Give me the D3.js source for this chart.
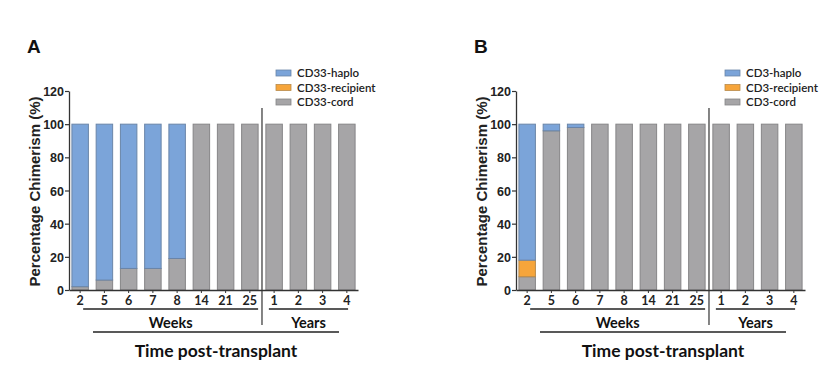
<!DOCTYPE html>
<html><head><meta charset="utf-8">
<script src="https://cdn.jsdelivr.net/npm/d3@7"></script>
<style>body{margin:0;background:#fff;}svg{display:block;}</style>
</head><body>
<svg id="c" width="830" height="383"></svg>
<script>
const categories = ["2","5","6","7","8","14","21","25","1","2","3","4"];
const groups = ["w","w","w","w","w","w","w","w","y","y","y","y"];
const yTicks = [0,20,40,60,80,100,120];
// Panel A (CD33)
const aCord = [2,6,13,13,19,100,100,100,100,100,100,100];
const aRecipient = [0,0,0,0,0,0,0,0,0,0,0,0];
const aHaplo = [98,94,87,87,81,0,0,0,0,0,0,0];
// Panel B (CD3)
const bCord = [8,96,98,100,100,100,100,100,100,100,100,100];
const bRecipient = [10,0,0,0,0,0,0,0,0,0,0,0];
const bHaplo = [82,4,2,0,0,0,0,0,0,0,0,0];
const aLegend = ["CD33-haplo","CD33-recipient","CD33-cord"];
const bLegend = ["CD3-haplo","CD3-recipient","CD3-cord"];
const colors = {haplo:"#7ba4d9", recipient:"#f6a53b", cord:"#a6a5a7"};
const strokes = {haplo:"#6a85a8", recipient:"#b88a4a", cord:"#868587"};

const svg = d3.select("#c");
const arial = "'Liberation Sans', Arial, sans-serif";
const cal = "Lato, 'Open Sans', sans-serif";

function panel(ox, letter, cord, recip, haplo, legend) {
  const g = svg.append("g").attr("transform", `translate(${ox},0)`);
  const x0 = 69, x1 = 358, yTop = 91, yBot = 290;
  const x = d3.scaleBand().domain(d3.range(categories.length)).range([x0, x1]).paddingInner(0.32).paddingOuter(0.12);
  const y = d3.scaleLinear().domain([0,120]).range([yBot, yTop]);

  g.append("text").attr("x", 27).attr("y", 53).text(letter)
    .attr("font-family", arial).attr("font-weight", "bold").attr("font-size", 19).attr("fill", "#111");

  const data = categories.map((c,i) => ({i, cord:cord[i], recipient:recip[i], haplo:haplo[i]}));
  const stack = d3.stack().keys(["cord","recipient","haplo"])(data);
  stack.forEach(layer => {
    g.append("g").selectAll("rect").data(layer.filter(d => d[1]-d[0] > 0)).join("rect")
      .attr("x", d => x(d.data.i))
      .attr("width", x.bandwidth())
      .attr("y", d => y(d[1]))
      .attr("height", d => y(d[0]) - y(d[1]))
      .attr("fill", colors[layer.key])
      .attr("stroke", strokes[layer.key]).attr("stroke-width", 1);
  });

  // y axis
  const ya = g.append("g").attr("transform", `translate(${x0},0)`)
    .call(d3.axisLeft(y).tickValues(yTicks).tickSize(4).tickSizeOuter(0));
  ya.select(".domain").attr("stroke", "#333").attr("stroke-width", 1.3);
  ya.selectAll(".tick line").attr("stroke", "#333").attr("stroke-width", 1.2);
  ya.selectAll("text").attr("font-family", arial).attr("font-weight", "bold")
    .attr("font-size", 12.5).attr("fill", "#222").attr("x", -5).attr("dy", "0.36em");

  // x axis
  const xa = g.append("g").attr("transform", `translate(0,${yBot})`)
    .call(d3.axisBottom(x).tickFormat(i => categories[i]).tickSize(3).tickSizeOuter(0));
  xa.select(".domain").attr("stroke", "#333").attr("stroke-width", 1.3);
  xa.selectAll(".tick line").attr("stroke", "#333");
  xa.selectAll("text").attr("font-family", cal).attr("font-weight", "bold")
    .attr("font-size", 12.5).attr("fill", "#222").attr("y", 4).attr("dy", "0.85em");

  // divider between weeks and years
  const lastW = groups.lastIndexOf("w");
  const divX = (x(lastW) + x.bandwidth() + x(lastW+1)) / 2;
  g.append("line").attr("x1", divX).attr("x2", divX).attr("y1", 108).attr("y2", 325)
    .attr("stroke", "#333").attr("stroke-width", 1.2);

  const wStart = x(0) + x.bandwidth()/2 + 3, wEnd = x(lastW) + x.bandwidth();
  const yStart = x(lastW+1) + 3, yEnd = x(categories.length-1) + x.bandwidth() - 7;
  g.append("line").attr("x1", wStart).attr("x2", wEnd).attr("y1", 309).attr("y2", 309).attr("stroke", "#222").attr("stroke-width", 1.5);
  g.append("line").attr("x1", yStart).attr("x2", yEnd).attr("y1", 309).attr("y2", 309).attr("stroke", "#222").attr("stroke-width", 1.5);
  g.append("text").attr("x", (wStart+wEnd)/2).attr("y", 328).attr("text-anchor", "middle").text("Weeks")
    .attr("font-family", cal).attr("font-weight", "bold").attr("font-size", 14.5).attr("fill", "#111");
  g.append("text").attr("x", (yStart+yEnd)/2).attr("y", 328).attr("text-anchor", "middle").text("Years")
    .attr("font-family", cal).attr("font-weight", "bold").attr("font-size", 14.5).attr("fill", "#111");
  g.append("line").attr("x1", 93).attr("x2", 339).attr("y1", 332).attr("y2", 332).attr("stroke", "#222").attr("stroke-width", 1.5);
  g.append("text").attr("x", 216).attr("y", 357).attr("text-anchor", "middle").text("Time post-transplant")
    .attr("font-family", cal).attr("font-weight", "bold").attr("font-size", 17.5).attr("fill", "#111");

  // y label
  g.append("text").attr("transform", `translate(40,${(yTop+yBot)/2 + 1}) rotate(-90)`)
    .attr("text-anchor", "middle").text("Percentage Chimerism (%)")
    .attr("font-family", arial).attr("font-weight", "bold").attr("font-size", 15).attr("fill", "#222");

  // legend
  const keys = ["haplo","recipient","cord"];
  const lg = g.append("g").attr("transform", `translate(${legend[0].startsWith("CD33") ? 276 : 278},73)`);
  keys.forEach((k, i) => {
    lg.append("rect").attr("x", 0).attr("y", i*14.5 - 3).attr("width", 15).attr("height", 6)
      .attr("fill", colors[k]).attr("stroke", strokes[k]).attr("stroke-width", 0.8);
    lg.append("text").attr("x", 21).attr("y", i*14.5).attr("dy", "0.35em").text(legend[i])
      .attr("font-family", cal).attr("font-weight", 600).attr("font-size", 11.5).attr("fill", "#222");
  });
}

panel(0, "A", aCord, aRecipient, aHaplo, aLegend);
panel(447, "B", bCord, bRecipient, bHaplo, bLegend);
</script>
</body></html>
